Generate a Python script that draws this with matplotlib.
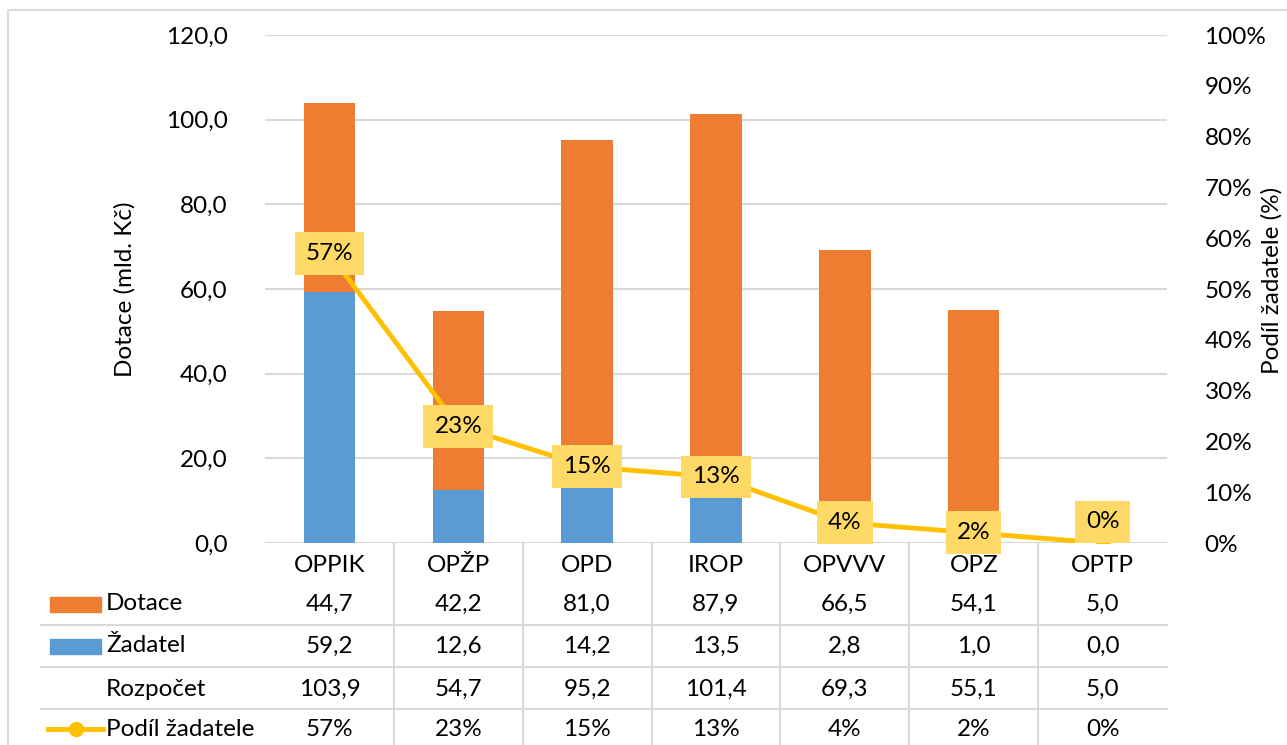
import numpy as np
import matplotlib
matplotlib.use("Agg")
import matplotlib.pyplot as plt
import matplotlib.transforms as mtransforms
from matplotlib.lines import Line2D
from matplotlib.patches import Rectangle

plt.rcParams['font.family'] = ['Lato', 'DejaVu Sans']

programy = ["OPPIK", "OPŽP", "OPD", "IROP", "OPVVV", "OPZ", "OPTP"]
dotace = [44.7, 42.2, 81.0, 87.9, 66.5, 54.1, 5.0]
zadatel = [59.2, 12.6, 14.2, 13.5, 2.8, 1.0, 0.0]
rozpocet = [103.9, 54.7, 95.2, 101.4, 69.3, 55.1, 5.0]
podil = [0.57, 0.23, 0.15, 0.13, 0.04, 0.02, 0.00]

BLUE = "#5B9BD5"
ORANGE = "#ED7D31"
GOLD = "#FFC000"
LABEL_BG = "#FFD966"
GRID = "#D9D9D9"
FS = 17.5

W, H = 1287, 745
fig = plt.figure(figsize=(W / 100, H / 100), dpi=100)
left, right, top, bottom = 265, 1167, 35, 543
ax = fig.add_axes([left / W, 1 - bottom / H, (right - left) / W, (bottom - top) / H])

x = np.arange(len(programy))
ax.bar(x, zadatel, width=0.4, color=BLUE, zorder=2)
ax.bar(x, dotace, width=0.4, bottom=zadatel, color=ORANGE, zorder=2)

ax.set_xlim(-0.5, len(programy) - 0.5)
ax.set_ylim(0, 120)
ax.set_yticks(np.arange(0, 121, 20))
ax.set_yticklabels([f"{v:.1f}".replace(".", ",") for v in np.arange(0, 121, 20)], fontsize=FS)
ax.yaxis.grid(True, color=GRID, linewidth=1.5)
ax.set_axisbelow(True)
ax.tick_params(axis="y", length=0, pad=27)
ax.set_xticks([])
for s in ax.spines.values():
    s.set_visible(False)
fig.text(125 / W, 1 - 289 / H, "Dotace (mld. Kč)", rotation=90, ha="center", va="center", fontsize=FS)

ax2 = ax.twinx()
ax2.set_ylim(0, 1)
ax2.set_yticks(np.arange(0, 1.01, 0.1))
ax2.set_yticklabels([f"{int(round(v * 100))}%" for v in np.arange(0, 1.01, 0.1)], fontsize=FS)
ax2.tick_params(axis="y", length=0, pad=27)
for s in ax2.spines.values():
    s.set_visible(False)
fig.text(1272 / W, 1 - 280 / H, "Podíl žadatele (%)", rotation=90, ha="center", va="center", fontsize=FS)

ax2.plot(x, podil, color=GOLD, linewidth=3.5, marker="o", markersize=10, zorder=3)
for i, p in enumerate(podil):
    dy = 21 if p < 0.01 else 0
    ax2.annotate(f"{int(round(p * 100))}%", (x[i], p), xytext=(0, dy),
                 textcoords="offset pixels", ha="center", va="center", fontsize=FS,
                 bbox=dict(boxstyle="square,pad=0.45", fc=LABEL_BG, ec="none"), zorder=4)

# data table below the plot
tr = mtransforms.blended_transform_factory(ax.transData, fig.transFigure)
fy = lambda py: 1 - py / H

for i, name in enumerate(programy):
    ax.text(x[i], fy(565), name, transform=tr, ha="center", va="center", fontsize=FS, clip_on=False)

rows = [
    ("Dotace", [f"{v:.1f}".replace(".", ",") for v in dotace], 604),
    ("Žadatel", [f"{v:.1f}".replace(".", ",") for v in zadatel], 646),
    ("Rozpočet", [f"{v:.1f}".replace(".", ",") for v in rozpocet], 689),
    ("Podíl žadatele", [f"{int(round(v * 100))}%" for v in podil], 729),
]
for label, vals, py in rows:
    fig.text(106 / W, fy(py), label, ha="left", va="center", fontsize=FS)
    for i, v in enumerate(vals):
        ax.text(x[i], fy(py), v, transform=tr, ha="center", va="center", fontsize=FS, clip_on=False)

# legend keys in the table
fig.patches.append(Rectangle((50 / W, fy(612)), 51 / W, 15 / H, transform=fig.transFigure,
                             color=ORANGE, figure=fig))
fig.patches.append(Rectangle((50 / W, fy(654)), 51 / W, 15 / H, transform=fig.transFigure,
                             color=BLUE, figure=fig))
fig.lines.append(Line2D([48 / W, 103 / W], [fy(729), fy(729)], transform=fig.transFigure,
                        color=GOLD, linewidth=3.5, figure=fig))
fig.lines.append(Line2D([75.5 / W], [fy(729)], transform=fig.transFigure, color=GOLD,
                        marker="o", markersize=10, linestyle="none", figure=fig))

# table grid lines
for py in (625, 667, 709):
    fig.lines.append(Line2D([41 / W, right / W], [fy(py), fy(py)], transform=fig.transFigure,
                            color=GRID, linewidth=1.5, figure=fig))
for b in np.arange(0.5, len(programy) - 1, 1.0):
    ax.add_line(Line2D([b, b], [fy(bottom), 0], transform=tr, color=GRID, linewidth=1.5,
                       clip_on=False))

# chart border
fig.lines.append(Line2D([8 / W, 8 / W, 1], [0, fy(10), fy(10)], transform=fig.transFigure,
                        color=GRID, linewidth=1.5, figure=fig))

fig.savefig("out.png", dpi=100)
